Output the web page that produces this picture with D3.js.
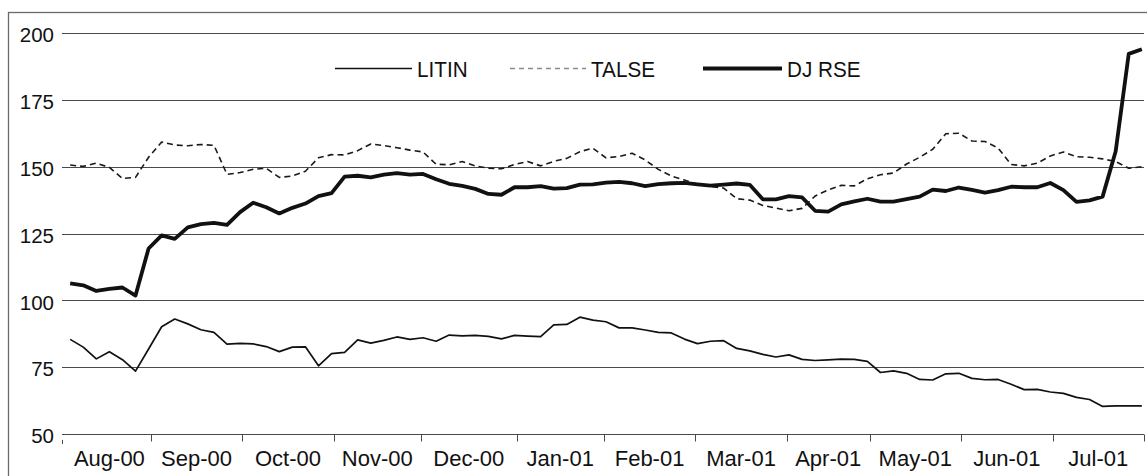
<!DOCTYPE html>
<html>
<head>
<meta charset="utf-8">
<script src="https://cdn.jsdelivr.net/npm/d3@7"></script>
<style>
  html, body { margin: 0; padding: 0; background: #fff; }
  text { font-family: "Liberation Sans", Arial, sans-serif; fill: #111; }
</style>
</head>
<body>
<div id="chart"></div>
<script>
// month categories and trading days in each month
var monthLabels = ["Aug-00", "Sep-00", "Oct-00", "Nov-00", "Dec-00", "Jan-01",
                   "Feb-01", "Mar-01", "Apr-01", "May-01", "Jun-01", "Jul-01"];
var monthDays = [19, 21, 21, 20, 22, 20, 21, 21, 19, 21, 21, 21];

// sample every 3rd trading day
var sampleDays = d3.range(0, 247, 3);

var litin = [
    85.4, 82.5, 78.1, 80.8, 77.8, 73.5, 81.8, 90.1, 93.0, 91.2,
    89.0, 88.0, 83.6, 83.9, 83.7, 82.7, 80.8, 82.5, 82.6, 75.5,
    80.1, 80.5, 85.2, 84.0, 85.0, 86.3, 85.4, 86.0, 84.7, 87.0,
    86.7, 86.9, 86.5, 85.6, 86.9, 86.6, 86.4, 90.8, 91.0, 93.7,
    92.6, 92.0, 89.7, 89.7, 88.9, 88.0, 87.8, 85.5, 83.8, 84.7,
    84.9, 82.0, 81.1, 79.8, 78.8, 79.6, 77.9, 77.5, 77.7, 78.0,
    77.9, 77.2, 73.0, 73.6, 72.7, 70.4, 70.2, 72.5, 72.7, 70.8,
    70.3, 70.4, 68.6, 66.6, 66.7, 65.7, 65.2, 63.7, 62.9, 60.3,
    60.5, 60.5, 60.5
];

var talse = [
    150.6, 150.1, 151.3, 149.7, 145.6, 146.0, 153.5, 159.2, 158.1, 157.8,
    158.3, 158.0, 147.1, 147.8, 149.0, 149.4, 146.0, 146.5, 148.3, 153.3,
    154.5, 154.4, 156.0, 158.5, 157.9, 157.1, 156.2, 155.5, 150.9, 150.7,
    151.9, 150.3, 149.4, 149.2, 150.8, 151.9, 150.3, 152.0, 153.1, 155.6,
    156.9, 153.3, 153.8, 155.0, 152.5, 149.0, 146.5, 145.0, 143.4, 142.6,
    142.0, 138.0, 137.5, 135.5, 134.5, 133.5, 134.4, 139.0, 141.3, 143.0,
    142.8, 145.5, 147.0, 147.6, 151.0, 153.5, 156.5, 162.3, 162.5, 159.6,
    159.4, 157.0, 150.8, 150.3, 151.3, 154.0, 155.5, 153.7, 153.5, 152.9,
    151.9, 149.4, 150.0
];

var djrse = [
    106.3, 105.6, 103.5, 104.3, 104.8, 101.8, 119.4, 124.3, 123.0, 127.3,
    128.5, 129.0, 128.2, 133.0, 136.5, 134.8, 132.5, 134.6, 136.2, 139.0,
    140.1, 146.3, 146.6, 146.0, 147.0, 147.6, 147.0, 147.3, 145.3, 143.6,
    142.8, 141.7, 139.8, 139.5, 142.3, 142.3, 142.7, 141.8, 142.0, 143.3,
    143.4, 144.0, 144.3, 143.8, 142.7, 143.5, 143.8, 143.9, 143.4, 142.9,
    143.3, 143.7, 143.2, 137.8, 137.8, 139.0, 138.5, 133.5, 133.2, 135.9,
    137.0, 138.0, 136.9, 136.9, 137.9, 138.8, 141.4, 140.9, 142.2, 141.3,
    140.3, 141.2, 142.5, 142.3, 142.3, 143.9, 141.2, 136.8, 137.4, 138.8,
    155.8, 192.2, 193.9
];

var yTicks = [50, 75, 100, 125, 150, 175, 200];

var seriesNames = ["LITIN", "TALSE", "DJ RSE"];

var W = 1147, H = 476;
var margin = { top: 33, left: 68, right: 3, bottom: 42 };

var svg = d3.select("#chart").append("svg")
    .attr("width", W)
    .attr("height", H);

// outer chart frame (right and bottom edges fall outside the picture)
svg.append("rect")
    .attr("x", 8.5).attr("y", 12.5)
    .attr("width", 1160).attr("height", 490)
    .attr("fill", "none")
    .attr("stroke", "#6a6a6a")
    .attr("stroke-width", 1.3);

var totalDays = d3.sum(monthDays);
var x = d3.scaleLinear()
    .domain([0, totalDays])
    .range([margin.left, W - margin.right]);

var y = d3.scaleLinear()
    .domain([50, 200])
    .range([H - margin.bottom, margin.top]);

// horizontal gridlines
svg.append("g")
    .selectAll("line")
    .data(yTicks.filter(function (d) { return d > 50; }))
    .enter().append("line")
    .attr("x1", x(0)).attr("x2", x(totalDays))
    .attr("y1", function (d) { return Math.round(y(d)) + 0.5; })
    .attr("y2", function (d) { return Math.round(y(d)) + 0.5; })
    .attr("stroke", "#4a4a4a")
    .attr("stroke-width", 1.2);

// Y axis ticks + labels
var yAxis = svg.append("g");
yAxis.selectAll("line")
    .data(yTicks)
    .enter().append("line")
    .attr("x1", x(0) - 6).attr("x2", x(0))
    .attr("y1", function (d) { return Math.round(y(d)) + 0.5; })
    .attr("y2", function (d) { return Math.round(y(d)) + 0.5; })
    .attr("stroke", "#4a4a4a");
yAxis.selectAll("text")
    .data(yTicks)
    .enter().append("text")
    .attr("x", x(0) - 14)
    .attr("y", function (d) { return y(d) + 2; })
    .attr("dy", "0.35em")
    .attr("text-anchor", "end")
    .style("font-size", "20.5px")
    .text(function (d) { return d; });

// small mark under the 50 label, as in the original
svg.append("line")
    .attr("x1", x(0) - 5.5).attr("x2", x(0) - 5.5)
    .attr("y1", Math.round(y(50)) + 6).attr("y2", Math.round(y(50)) + 10)
    .attr("stroke", "#4a4a4a");

// X axis (month categories)
var monthEdges = [0].concat(Array.from(d3.cumsum(monthDays)));
var xAxisY = Math.round(y(50)) + 0.5;
svg.append("line")
    .attr("x1", x(0)).attr("x2", x(totalDays))
    .attr("y1", xAxisY).attr("y2", xAxisY)
    .attr("stroke", "#4a4a4a")
    .attr("stroke-width", 1.2);
svg.append("g")
    .selectAll("line")
    .data(monthEdges.slice(1))
    .enter().append("line")
    .attr("x1", function (d) { return Math.round(x(d)) + 0.5; })
    .attr("x2", function (d) { return Math.round(x(d)) + 0.5; })
    .attr("y1", xAxisY).attr("y2", xAxisY + 7)
    .attr("stroke", "#4a4a4a");
svg.append("g")
    .selectAll("text")
    .data(monthLabels)
    .enter().append("text")
    .attr("x", function (d, i) { return x((monthEdges[i] + monthEdges[i + 1]) / 2); })
    .attr("y", xAxisY + 31.5)
    .attr("text-anchor", "middle")
    .style("font-size", "22px")
    .text(function (d) { return d; });

// lines
var line = d3.line()
    .x(function (d) { return x(d[0] + 0.5); })
    .y(function (d) { return y(d[1]); });

function pairs(values) {
    return values.map(function (v, i) { return [sampleDays[i], v]; });
}

var styles = [
    { data: litin, width: 1.7, dash: null, color: "#111" },
    { data: talse, width: 1.6, dash: "6,4", color: "#1a1a1a" },
    { data: djrse, width: 3.8, dash: null, color: "#111" }
];

styles.forEach(function (s) {
    svg.append("path")
        .datum(pairs(s.data))
        .attr("d", line)
        .attr("fill", "none")
        .attr("stroke", s.color)
        .attr("stroke-width", s.width)
        .attr("stroke-dasharray", s.dash)
        .attr("stroke-linejoin", "round");
});

// legend
var legendItems = [
    { name: seriesNames[0], x1: 335, x2: 412, width: 1.7, dash: null, color: "#111" },
    { name: seriesNames[1], x1: 510, x2: 586, width: 1.5, dash: "5,4", color: "#8a8a8a" },
    { name: seriesNames[2], x1: 703, x2: 782, width: 3.8, dash: null, color: "#111" }
];
var legendY = 68.5;
var legend = svg.append("g");
legendItems.forEach(function (d) {
    legend.append("line")
        .attr("x1", d.x1).attr("x2", d.x2)
        .attr("y1", legendY).attr("y2", legendY)
        .attr("stroke", d.color)
        .attr("stroke-width", d.width)
        .attr("stroke-dasharray", d.dash);
    legend.append("text")
        .attr("transform", "translate(" + (d.x2 + 5) + "," + (legendY + 8.5) + ") scale(0.92,1)")
        .style("font-size", "22.5px")
        .text(d.name);
});
</script>
</body>
</html>
